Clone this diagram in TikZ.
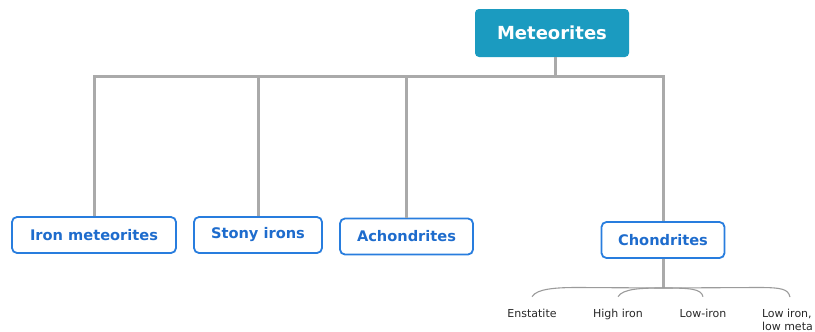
\documentclass[tikz,border=0pt]{standalone}
\usepackage{fontspec}
\setmainfont{DejaVu Sans}
\definecolor{teal1}{RGB}{27,155,192}
\definecolor{bord}{RGB}{40,125,222}
\definecolor{btext}{RGB}{30,108,205}
\definecolor{conn}{RGB}{170,170,170}
\definecolor{thin}{RGB}{155,155,155}
\definecolor{ltext}{RGB}{40,40,40}
\begin{document}
\begin{tikzpicture}[x=1pt,y=-1pt,
  rootbox/.style={fill=teal1,draw=none,rounded corners=4pt,text=white,font=\fontsize{18}{21}\selectfont\bfseries,minimum width=154pt,minimum height=48pt,inner sep=0pt},
  catbox/.style={draw=bord,line width=1.8pt,fill=white,rounded corners=5pt,text=btext,font=\fontsize{14.6}{17}\selectfont\bfseries,minimum height=36pt,inner sep=0pt},
  trunk/.style={draw=conn,line width=3pt},
  twig/.style={draw=thin,line width=1.1pt},
  leaf/.style={text=ltext,font=\fontsize{11}{13}\selectfont,inner sep=0pt,outer sep=0pt}]
\useasboundingbox (0,0) rectangle (815,332);
\node[rootbox] (met) at (552,33) {Meteorites};
\node[catbox,minimum width=164pt] (iron) at (94,235) {Iron meteorites};
\node[catbox,minimum width=128pt] (stony) at (258,235) {Stony irons};
\node[catbox,minimum width=133pt] (achon) at (406.5,236.5) {Achondrites};
\node[catbox,minimum width=123pt] (chon) at (663,240) {Chondrites};
\coordinate (hub) at (555,76);
\coordinate (cj) at (663,288);
% trunk lines
\draw[trunk] (met.south -| hub) -- (hub);
\draw[trunk] (iron.north) |- (chon.north |- hub) -- (chon.north);
\draw[trunk] (stony.north) -- (stony.north |- hub);
\draw[trunk] (achon.north) -- (achon.north |- hub);
\draw[trunk] (chon.south) -- (cj);
% leaves
\node[leaf,anchor=base] (ens) at (532,317) {Enstatite};
\node[leaf,anchor=base] (hi) at (618,317) {High iron};
\node[leaf,anchor=base] (lo) at (703,317) {Low-iron};
\node[leaf,anchor=north west,align=left] (lm) at (762,309) {Low iron,\\low meta};
\coordinate (lmtop) at (790,297);
\draw[twig] ([yshift=12pt]ens.north) .. controls +(5,-8) and +(-22,0) .. (578,287.5) -- (cj) -- (758,287.5) .. controls +(24,0) and +(-2,-8) .. (lmtop);
\draw[twig] ([yshift=12pt]hi.north) .. controls +(5,-8) and +(-22,0) .. (cj) .. controls +(27,0) and +(-2,-8) .. ([yshift=12pt]lo.north);
\end{tikzpicture}
\end{document}
